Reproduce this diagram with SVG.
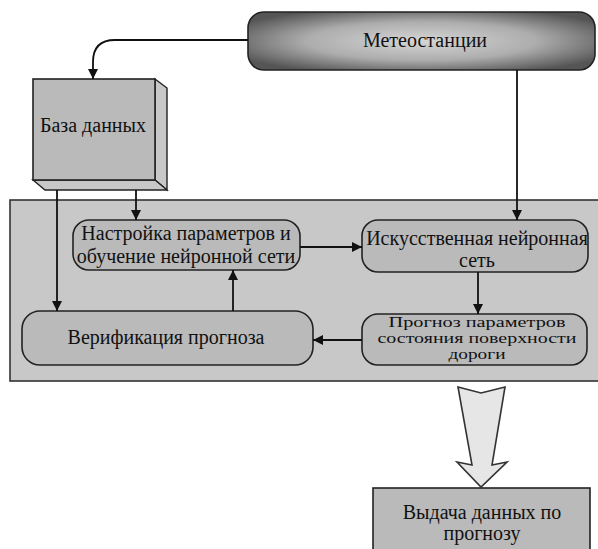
<svg xmlns="http://www.w3.org/2000/svg" width="598" height="549" viewBox="0 0 598 549">
  <defs>
    <radialGradient id="meteoGrad" cx="50%" cy="50%" r="60%">
      <stop offset="0%" stop-color="#d6d6d6"/>
      <stop offset="55%" stop-color="#adadad"/>
      <stop offset="100%" stop-color="#555555"/>
    </radialGradient>
    <marker id="arr" viewBox="0 0 10 10" refX="10" refY="5" markerWidth="10" markerHeight="10" markerUnits="userSpaceOnUse" orient="auto">
      <path d="M0,0 L10,5 L0,10 Z" fill="#111"/>
    </marker>
  </defs>
  <style>
    .box { fill: #bababa; stroke: #222; stroke-width: 1.6; }
    .cont { fill: #c8c8c8; stroke: #333; stroke-width: 1.6; }
    .lbl { font-family: "Liberation Serif", "DejaVu Serif", "Times New Roman", serif; font-size: 20px; fill: #111; text-anchor: middle; }
    .sm { font-size: 15px; }
    .conn { fill: none; stroke: #111; stroke-width: 1.8; marker-end: url(#arr); }
  </style>
  <rect width="598" height="549" fill="#ffffff"/>

  <g id="container">
    <rect class="cont" x="10" y="200" width="590" height="181"/>
  </g>

  <g id="meteo">
    <rect x="248" y="12" width="347" height="58" rx="16" fill="url(#meteoGrad)" stroke="#222" stroke-width="1.6"/>
    <text class="lbl" x="425" y="47">Метеостанции</text>
  </g>

  <g id="db">
    <polygon points="155,79 167,88 167,190 155,180" fill="#c8c8c8" stroke="#222" stroke-width="1.4"/>
    <polygon points="33,180 155,180 167,190 45,190" fill="#c8c8c8" stroke="#222" stroke-width="1.4"/>
    <rect class="box" x="33" y="79" width="122" height="101"/>
    <text class="lbl" x="93" y="132">База данных</text>
  </g>

  <g id="tuning">
    <rect class="box" x="73" y="220" width="227" height="50" rx="16"/>
    <text class="lbl" x="186" y="240">Настройка параметров и</text>
    <text class="lbl" x="186" y="263">обучение нейронной сети</text>
  </g>

  <g id="ann">
    <rect class="box" x="362" y="220" width="226" height="52" rx="16"/>
    <text class="lbl" x="477" y="245">Искусственная нейронная</text>
    <text class="lbl" x="477" y="267">сеть</text>
  </g>

  <g id="verification">
    <rect class="box" x="22" y="311" width="291" height="54" rx="18"/>
    <text class="lbl" x="166" y="344">Верификация прогноза</text>
  </g>

  <g id="forecast">
    <rect class="box" x="362" y="314" width="225" height="51" rx="16"/>
    <text class="lbl sm" x="477" y="327" textLength="177" lengthAdjust="spacingAndGlyphs">Прогноз параметров</text>
    <text class="lbl sm" x="477" y="343" textLength="199" lengthAdjust="spacingAndGlyphs">состояния поверхности</text>
    <text class="lbl sm" x="477" y="359" textLength="57" lengthAdjust="spacingAndGlyphs">дороги</text>
  </g>

  <g id="output">
    <rect class="box" x="373" y="488" width="217" height="66"/>
    <text class="lbl" x="482" y="519">Выдача данных по</text>
    <text class="lbl" x="482" y="540">прогнозу</text>
  </g>

  <g id="connectors">
    <path class="conn" d="M248,40 L115,40 Q93,40 93,62 L93,79"/>
    <path class="conn" d="M517,70 L517,220"/>
    <path class="conn" d="M57,190 L57,311"/>
    <path class="conn" d="M136,190 L136,220"/>
    <path class="conn" d="M300,247 L362,247"/>
    <path class="conn" d="M478,272 L478,314"/>
    <path class="conn" d="M362,340 L313,340"/>
    <path class="conn" d="M233,311 L233,270"/>
    <polygon points="458,387 481,393 505,387 492,465 507,462 481,487 457,462 472,465" fill="#e6e6e6" stroke="#333" stroke-width="1.6" stroke-linejoin="miter"/>
  </g>
</svg>
